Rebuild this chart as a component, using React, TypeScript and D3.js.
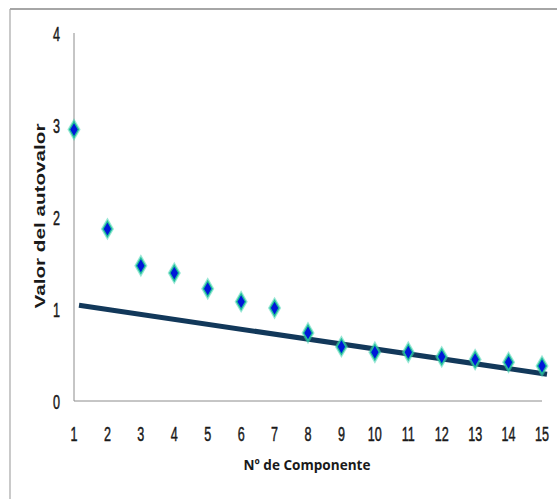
import React from "react";
import * as d3 from "d3";

const components = [1, 2, 3, 4, 5, 6, 7, 8, 9, 10, 11, 12, 13, 14, 15];
const eigenvalues = [2.95, 1.87, 1.47, 1.39, 1.22, 1.08, 1.01, 0.74, 0.59, 0.53, 0.53, 0.48, 0.45, 0.42, 0.38];
const trendX = [1.15, 15.15];
const trendY = [1.04, 0.29];
const yTicks = [0, 1, 2, 3, 4];
const xTitle = "Nº de Componente";
const yTitle = "Valor del autovalor";

const W = 557;
const H = 499;

export default function App() {
  const x = d3.scaleLinear().domain([1, 15]).range([74, 542]);
  const y = d3.scaleLinear().domain([0, 4]).range([401, 33]);
  const line = d3
    .line<number>()
    .x((_, i) => x(trendX[i]))
    .y((d) => y(d));
  const diamond = d3.symbol().type(d3.symbolDiamond);
  const tickFont = "'Liberation Sans', Arial, sans-serif";
  return (
    <svg
      width={W}
      height={H}
      style={{ position: "absolute", left: 0, top: 0, background: "#fff" }}
    >
      {/* outer frame */}
      <line x1={10} x2={W} y1={9} y2={9} stroke="#a6a6a6" strokeWidth={2} />
      <line x1={10} x2={10} y1={9} y2={H} stroke="#a6a6a6" strokeWidth={1.2} />

      {/* axes */}
      <line x1={x(1)} x2={x(1)} y1={y(4)} y2={y(0)} stroke="#8c8c8c" strokeWidth={1} />
      <line x1={x(1)} x2={x(15)} y1={y(0)} y2={y(0)} stroke="#8c8c8c" strokeWidth={1} />

      {yTicks.map((t) => (
        <text
          key={"y" + t}
          transform={`translate(60,${y(t)}) scale(0.6,1)`}
          dy="0.36em"
          textAnchor="end"
          fontFamily={tickFont}
          fontSize={21}
          fill="#1a1a1a"
          stroke="#1a1a1a"
          strokeWidth={0.5}
        >
          {t}
        </text>
      ))}
      {components.map((c) => (
        <text
          key={"x" + c}
          transform={`translate(${x(c)},433) scale(0.6,1)`}
          dy="0.36em"
          textAnchor="middle"
          fontFamily={tickFont}
          fontSize={21}
          fill="#1a1a1a"
          stroke="#1a1a1a"
          strokeWidth={0.5}
        >
          {c}
        </text>
      ))}

      {/* trend line */}
      <path d={line(trendY) || ""} fill="none" stroke="#12385a" strokeWidth={5} />

      {/* points */}
      {eigenvalues.map((v, i) => (
        <g key={"p" + i} transform={`translate(${x(components[i])},${y(v)})`}>
          <path d={diamond.size(150)() || ""} fill="#3fd1b0" opacity={0.55} />
          <path d={diamond.size(95)() || ""} fill="#1fbf9a" />
          <path d={diamond.size(48)() || ""} fill="#0018d8" />
        </g>
      ))}

      {/* titles */}
      <text
        transform={`translate(45,216) rotate(-90)`}
        textAnchor="middle"
        fontFamily="'Liberation Sans', Arial, sans-serif"
        fontWeight="bold"
        fontSize={15}
        fill="#1a1a1a"
        textLength={185}
        lengthAdjust="spacingAndGlyphs"
      >
        {yTitle}
      </text>
      <text
        x={307}
        y={465}
        dy="0.35em"
        textAnchor="middle"
        fontFamily="'Open Sans', 'Noto Sans', sans-serif"
        fontWeight="bold"
        fontSize={15}
        fill="#1a1a1a"
        textLength={127}
        lengthAdjust="spacingAndGlyphs"
      >
        {xTitle}
      </text>
    </svg>
  );
}
